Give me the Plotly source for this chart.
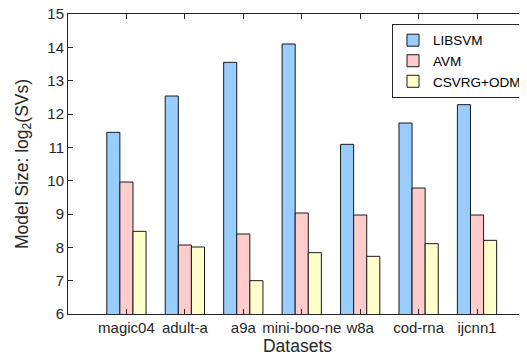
import plotly.graph_objects as go

datasets = ["magic04", "adult-a", "a9a", "mini-boo-ne", "w8a", "cod-rna", "ijcnn1"]
libsvm = [11.45, 12.54, 13.55, 14.10, 11.09, 11.73, 12.28]
avm = [9.96, 8.07, 8.40, 9.03, 8.97, 9.78, 8.97]
csvrg_odm = [8.48, 8.01, 7.00, 7.84, 7.73, 8.11, 8.21]
y_ticks = [6, 7, 8, 9, 10, 11, 12, 13, 14, 15]

xpos = list(range(1, len(datasets) + 1))
font_family = "Liberation Sans, Arial, Helvetica, sans-serif"
axis_col = "#262626"

fig = go.Figure()
for name, vals, col in [("LIBSVM", libsvm, "#99CCFF"),
                        ("AVM", avm, "#FFCCCC"),
                        ("CSVRG+ODM", csvrg_odm, "#FFFFCC")]:
    fig.add_trace(go.Bar(x=xpos, y=vals, name=name,
                         marker=dict(color=col, line=dict(color="#1a1a1a", width=1))))

# page body has an 8px default margin, so the figure is sized to fit the window
fig.update_layout(
    width=519, height=349,
    margin=dict(l=60, r=0, t=6, b=43),
    paper_bgcolor="white", plot_bgcolor="white",
    barmode="group", bargap=0.328, bargroupgap=0,
    font=dict(family=font_family, color=axis_col, size=15),
    showlegend=True,
    legend=dict(x=0.706, y=0.967, xanchor="left", yanchor="top",
                bordercolor=axis_col, borderwidth=1, bgcolor="white",
                font=dict(size=13.5, color="#000000"),
                tracegroupgap=0, itemwidth=30),
)
fig.update_xaxes(range=[0, 7.855], tickvals=xpos, ticktext=datasets, tickangle=0,
                 tickfont=dict(size=15), automargin=False,
                 showline=True, linecolor=axis_col, linewidth=1, mirror="ticks",
                 ticks="inside", ticklen=5, tickcolor=axis_col, showgrid=False,
                 zeroline=False,
                 title=dict(text="Datasets", font=dict(size=17.5), standoff=2))
fig.update_yaxes(range=[6, 15], tickvals=y_ticks, automargin=False,
                 ticklabeloverflow="allow",
                 showline=True, linecolor=axis_col, linewidth=1, mirror=False,
                 ticks="inside", ticklen=5, tickcolor=axis_col, showgrid=False,
                 zeroline=False,
                 title=dict(text="Model Size: log<sub>2</sub>(SVs)", font=dict(size=17.5), standoff=14))

fig.write_html("out.html")
